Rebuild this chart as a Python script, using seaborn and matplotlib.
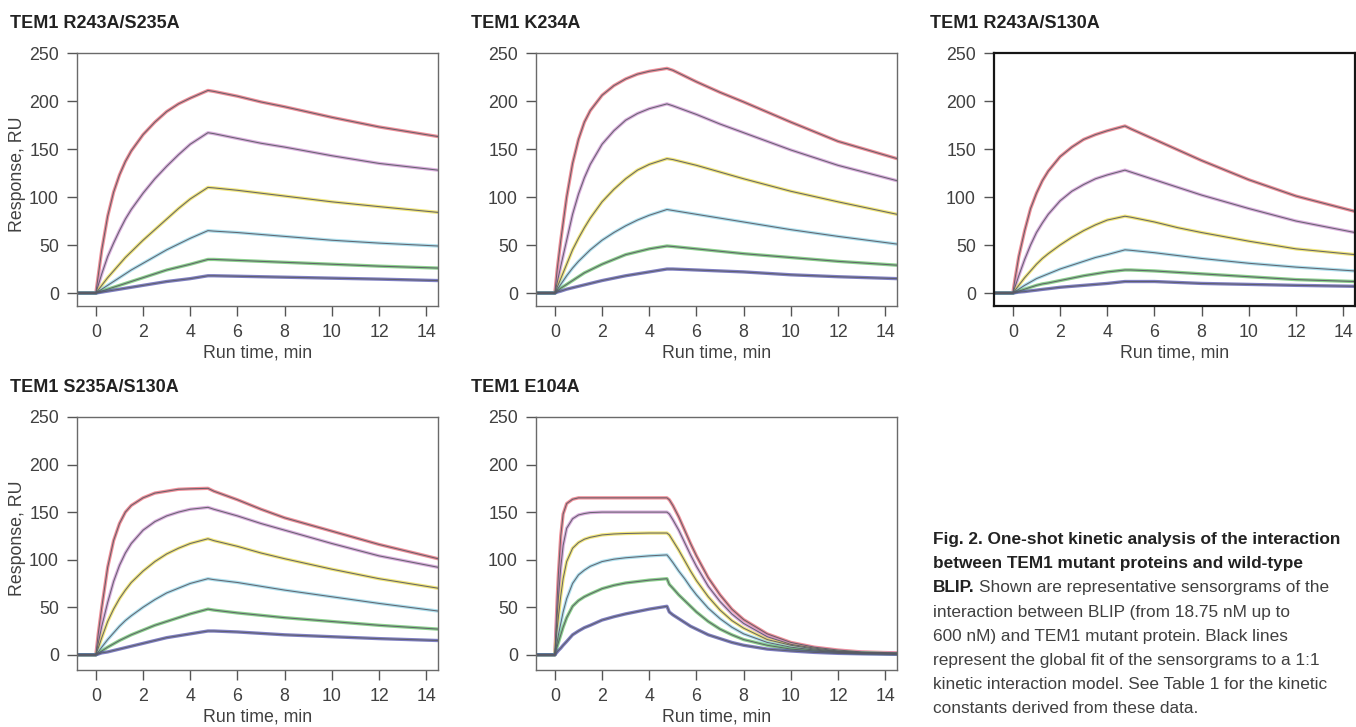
import matplotlib
matplotlib.use("Agg")
import numpy as np
import pandas as pd
import seaborn as sns
import matplotlib.pyplot as plt

# ---------------- data ----------------
CONC = ["600 nM", "300 nM", "150 nM", "75 nM", "37.5 nM", "18.75 nM"]
COLORS = ["#e8606e", "#cc8fd0", "#eadb45", "#8cd2e6", "#5cbd5e", "#4b4ba8"]

TITLES = ["TEM1 R243A/S235A", "TEM1 K234A", "TEM1 R243A/S130A",
          "TEM1 S235A/S130A", "TEM1 E104A"]

T_SLOW = [-0.8, 0, 0.1, 0.25, 0.5, 0.75, 1, 1.25, 1.5, 2, 2.5, 3, 3.5, 4, 4.75,
          5, 6, 7, 8, 10, 12, 14.5]

# TEM1 R243A/S235A
P1_600 = [0, 0, 18, 45, 80, 105, 123, 137, 148, 165, 178, 189, 197, 203, 211, 210, 205, 199, 194, 183, 173, 163]
P1_300 = [0, 0, 8, 20, 38, 52, 65, 77, 87, 104, 119, 132, 144, 155, 167, 166, 161, 156, 152, 143, 135, 128]
P1_150 = [0, 0, 3, 8, 16, 23, 30, 37, 43, 55, 66, 77, 88, 98, 110, 109.5, 107, 104, 101, 95, 90, 84]
P1_75 = [0, 0, 1.5, 4, 8, 12, 16, 20, 24, 31, 38, 45, 51, 57, 65, 64.5, 63, 61, 59, 55, 52, 49]
P1_37 = [0, 0, 1, 2, 4, 6, 8, 10, 12, 16, 20, 24, 27, 30, 35, 35, 34, 33, 32, 30, 28, 26]
P1_18 = [0, 0, 0.4, 1, 2, 3, 4, 5, 6, 8, 10, 12, 13.5, 15, 18, 18, 17.5, 17, 16.5, 15.5, 14.5, 13]

# TEM1 K234A
P2_600 = [0, 0, 25, 55, 100, 135, 160, 178, 190, 206, 216, 223, 228, 231, 234, 232, 220, 209, 199, 178, 158, 140]
P2_300 = [0, 0, 11, 28, 55, 82, 103, 120, 134, 155, 169, 180, 187, 192, 197, 195, 186, 176, 167, 149, 133, 117]
P2_150 = [0, 0, 6, 15, 30, 45, 57, 68, 78, 95, 108, 119, 128, 134, 140, 139, 133, 126, 119, 106, 95, 82]
P2_75 = [0, 0, 3.5, 9, 18, 26, 33, 39, 45, 55, 63, 70, 76, 81, 87, 86, 82, 78, 74, 66, 59, 51]
P2_37 = [0, 0, 2, 5, 9, 13, 17, 21, 24, 30, 35, 40, 43, 46, 49, 48.5, 46, 43.5, 41, 37, 33, 29]
P2_18 = [0, 0, 1, 2, 4, 5.5, 7, 8.5, 10, 13, 15.5, 18, 20, 22, 25, 25, 24, 23, 22, 19, 17, 15]

# TEM1 R243A/S130A
P3_600 = [0, 0, 16, 38, 65, 88, 104, 117, 127, 142, 152, 160, 165, 169, 174, 171, 160, 149, 138, 118, 101, 85]
P3_300 = [0, 0, 7, 18, 35, 50, 63, 73, 82, 96, 106, 113, 119, 123, 128, 126, 118, 110, 102, 88, 75, 63]
P3_150 = [0, 0, 3, 8, 16, 23, 30, 36, 41, 50, 58, 65, 71, 76, 80, 79, 74, 68, 63, 54, 46, 40]
P3_75 = [0, 0, 1.5, 4, 8, 11.5, 15, 17.5, 20, 25, 29, 33, 37, 40, 45, 44.5, 42, 39, 36, 31, 27, 23]
P3_37 = [0, 0, 0.8, 2, 4, 6, 8, 9.5, 10.5, 13, 15.5, 18, 20, 22, 24, 24, 23, 21.5, 20, 17, 14, 12]
P3_18 = [0, 0, 0.4, 1, 1.5, 2.3, 3, 3.8, 4.5, 6, 7, 8, 9, 10, 12, 12, 12, 11, 10, 9, 8, 7]

# TEM1 S235A/S130A
P4_600 = [0, 0, 22, 50, 92, 120, 138, 150, 157, 165, 170, 172, 174, 174.5, 175, 172, 163, 153, 144, 130, 116, 101]
P4_300 = [0, 0, 12, 30, 55, 77, 94, 107, 117, 131, 140, 146, 150, 153, 155, 153, 146, 138, 131, 117, 104, 92]
P4_150 = [0, 0, 7, 18, 35, 48, 59, 68, 76, 88, 98, 106, 112, 117, 122, 120, 114, 107, 101, 90, 80, 70]
P4_75 = [0, 0, 3, 8, 16, 23, 30, 36, 41, 50, 58, 65, 70, 75, 80, 79, 76, 72, 68, 61, 54, 46]
P4_37 = [0, 0, 1.5, 4, 8, 11.5, 15, 18, 21, 26, 31, 35, 39, 43, 48, 47, 44, 41.5, 39, 35, 31, 27]
P4_18 = [0, 0, 0.8, 2, 3, 4.5, 6, 7.5, 9, 12, 15, 18, 20, 22, 25, 25, 24, 22.5, 21, 19, 17, 15]

# TEM1 E104A (fast kinetics)
T_FAST = [-0.8, 0, 0.05, 0.1, 0.15, 0.25, 0.35, 0.5, 0.75, 1, 1.25, 1.5, 2, 2.5, 3,
          4, 4.75, 4.85, 5, 5.25, 5.5, 5.75, 6, 6.5, 7, 7.5, 8, 9, 10, 11, 12,
          13, 14.5]
P5_600 = [0, 0, 30, 60, 85, 125, 148, 159, 163.5, 165, 165, 165, 165, 165, 165,
          165, 165, 163, 157, 145, 131, 117, 104, 81, 63, 48, 37, 22, 13, 8, 5,
          3, 2]
P5_300 = [0, 0, 22, 42, 60, 92, 115, 133, 143, 147, 148.5, 149.5, 150, 150, 150,
          150, 150, 148, 142, 131, 118, 105, 93, 72, 56, 43, 33, 19, 11, 7, 4,
          2.5, 1.5]
P5_150 = [0, 0, 14, 28, 40, 62, 80, 98, 112, 118, 121.5, 123.5, 126, 127, 127.5,
          128, 128, 126, 120, 110, 99, 88, 78, 61, 47, 36, 28, 16, 10, 6, 3.5,
          2, 1]
P5_75 = [0, 0, 7, 14, 21, 33, 45, 59, 75, 84, 89, 93, 98, 100.5, 102,
         104, 105, 102, 97, 88, 80, 71, 63, 49, 38, 29, 22, 13, 8, 5, 3,
         2, 1]
P5_37 = [0, 0, 5, 9, 13, 21, 29, 39, 51, 57, 61, 64, 69.5, 73, 75.5,
         78.5, 80, 74, 70, 63, 57, 51, 45, 35, 27, 21, 16, 10, 6, 4, 2.5,
         1.5, 1]
P5_18 = [0, 0, 1.5, 3, 4.5, 7, 10, 14, 21, 25, 28.5, 31, 36.5, 40, 43,
         48, 51, 45, 42, 38, 34, 30, 27, 21, 17, 13, 10, 6, 4, 2.5, 1.5,
         1, 0.5]

X_TICKS = [0, 2, 4, 6, 8, 10, 12, 14]
Y_TICKS = [0, 50, 100, 150, 200, 250]

PANELS = [
    (T_SLOW, [P1_600, P1_300, P1_150, P1_75, P1_37, P1_18]),
    (T_SLOW, [P2_600, P2_300, P2_150, P2_75, P2_37, P2_18]),
    (T_SLOW, [P3_600, P3_300, P3_150, P3_75, P3_37, P3_18]),
    (T_SLOW, [P4_600, P4_300, P4_150, P4_75, P4_37, P4_18]),
    (T_FAST, [P5_600, P5_300, P5_150, P5_75, P5_37, P5_18]),
]

# ---------------- style ----------------
sns.set_theme(style="white")
plt.rcParams["font.family"] = ["Liberation Sans", "DejaVu Sans"]

W, H = 1356, 727
fig = plt.figure(figsize=(W / 100, H / 100), dpi=100)

# axes boxes in pixels: left, top, right, bottom
BOXES = [(77, 53, 438, 306), (536, 53, 897, 306), (994, 53, 1355, 306),
         (77, 417, 438, 670), (536, 417, 897, 670)]
YLIMS = [(-13.5, 250), (-13.5, 250), (-13.5, 250), (-16, 250), (-16, 250)]
TITLE_POS = [(10, 28), (471, 28), (930, 28), (10, 392), (471, 392)]

TXT = "#404040"
FS = 12.8

for i, ((t, curves), box) in enumerate(zip(PANELS, BOXES)):
    l, tp, r, b = box
    ax = fig.add_axes([l / W, 1 - b / H, (r - l) / W, (b - tp) / H])
    rows = []
    for c, vals in zip(CONC, curves):
        for tt, v in zip(t, vals):
            rows.append((c, tt, v))
    df = pd.DataFrame(rows, columns=["conc", "t", "R"])
    # measured sensorgrams (coloured)
    sns.lineplot(data=df, x="t", y="R", hue="conc", hue_order=CONC,
                 palette=COLORS, estimator=None, lw=2.4, alpha=0.7,
                 legend=False, ax=ax)
    # global 1:1 fit (dark lines)
    sns.lineplot(data=df, x="t", y="R", units="conc", estimator=None,
                 color="#5a5a64", lw=0.75, alpha=0.9, legend=False, ax=ax)

    ax.set_xlim(-0.8, 14.5)
    ax.set_ylim(*YLIMS[i])
    ax.set_xticks(X_TICKS)
    ax.set_yticks(Y_TICKS)
    ax.tick_params(direction="out", length=7, width=1.0, color="#555555",
                   pad=6, labelsize=FS, labelcolor=TXT,
                   bottom=True, left=True)
    if i == 2:
        for s in ax.spines.values():
            s.set_color("#151515")
            s.set_linewidth(1.6)
    else:
        for s in ax.spines.values():
            s.set_color("#6a6a6a")
            s.set_linewidth(1.0)

    ax.set_xlabel("Run time, min", fontsize=FS, color=TXT)
    ax.xaxis.set_label_coords(0.5, -38 / (b - tp))
    if i in (0, 3):
        ax.set_ylabel("Response, RU", fontsize=FS, color=TXT)
        ax.yaxis.set_label_coords((26 - l) / (r - l), 0.52)
    else:
        ax.set_ylabel("")

    tx, ty = TITLE_POS[i]
    fig.text(tx / W, 1 - ty / H, TITLES[i], fontsize=13, fontweight="bold",
             color="#222222", va="baseline", ha="left")

# ---------------- caption ----------------
CAP_X = 933
CAP_Y0 = 544
CAP_DY = 24.2
CAP_FS = 12.4
bold_lines = ["Fig. 2. One-shot kinetic analysis of the interaction",
              "between TEM1 mutant proteins and wild-type"]
reg_lines = ["interaction between BLIP (from 18.75 nM up to",
             "600 nM) and TEM1 mutant protein. Black lines",
             "represent the global fit of the sensorgrams to a 1:1",
             "kinetic interaction model. See Table 1 for the kinetic",
             "constants derived from these data."]
for k, s in enumerate(bold_lines):
    fig.text(CAP_X / W, 1 - (CAP_Y0 + k * CAP_DY) / H, s, fontsize=CAP_FS,
             fontweight="bold", color="#222222", va="baseline")
y3 = 1 - (CAP_Y0 + 2 * CAP_DY) / H
tb = fig.text(CAP_X / W, y3, "BLIP.", fontsize=CAP_FS, fontweight="bold",
              color="#222222", va="baseline")
fig.canvas.draw()
ext = tb.get_window_extent(renderer=fig.canvas.get_renderer())
fig.text(ext.x1 / W + 4 / W, y3, "Shown are representative sensorgrams of the",
         fontsize=CAP_FS, color=TXT, va="baseline")
for k, s in enumerate(reg_lines):
    fig.text(CAP_X / W, 1 - (CAP_Y0 + (k + 3) * CAP_DY) / H, s,
             fontsize=CAP_FS, color=TXT, va="baseline")

fig.savefig("out.png", dpi=100)
